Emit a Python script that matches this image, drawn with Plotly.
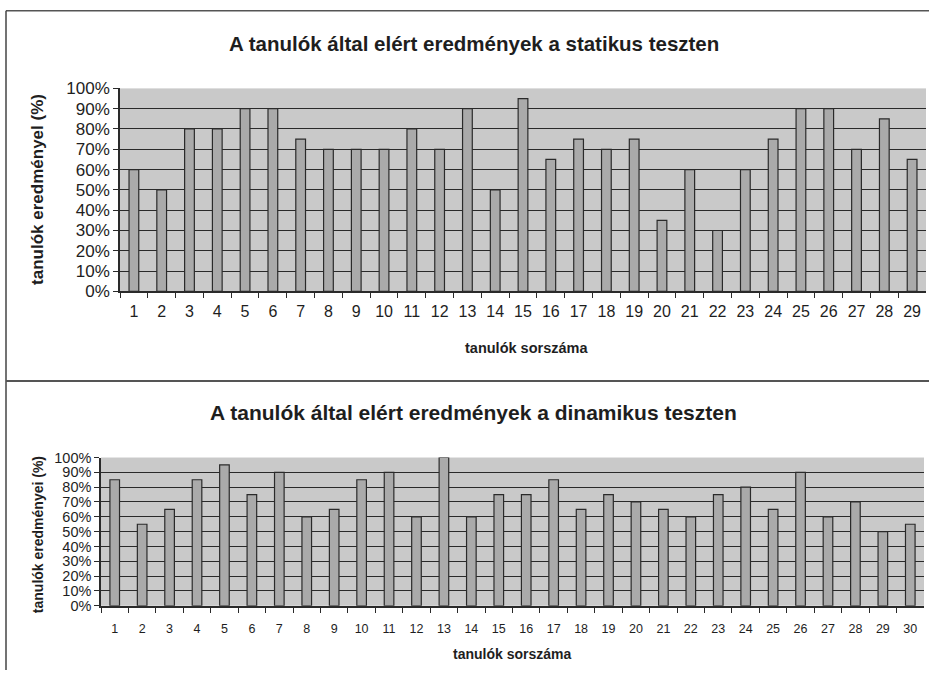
import plotly.graph_objects as go

# ---- data ----
static_students = [str(i) for i in range(1, 30)]
static_scores = [60, 50, 80, 80, 90, 90, 75, 70, 70, 70, 80, 70, 90, 50, 95,
                 65, 75, 70, 75, 35, 60, 30, 60, 75, 90, 90, 70, 85, 65]

dynamic_students = [str(i) for i in range(1, 31)]
dynamic_scores = [85, 55, 65, 85, 95, 75, 90, 60, 65, 85, 90, 60, 100, 60, 75,
                  75, 85, 65, 75, 70, 65, 60, 75, 80, 65, 90, 60, 70, 50, 55]

title_static = "A tanulók által elért eredmények a statikus teszten"
title_dynamic = "A tanulók által elért eredmények a dinamikus teszten"
ytitle_static = "tanulók eredményel (%)"
ytitle_dynamic = "tanulók eredményei (%)"
xtitle = "tanulók sorszáma"

# ---- style ----
W, H = 929, 680
FONT = "Liberation Sans"
TXT = "#1e1e1e"
BAR = "#aaaaaa"
BG = "#c9c9c9"
LINE = "#2a2a2a"


def px(x):
    return x / W


def py(y):
    # vertical layout position (pixels from top) -> paper fraction
    s = (y - 7.2) / 0.977
    return 1 - s / H


fig = go.Figure()
fig.add_trace(go.Bar(x=static_students, y=static_scores, xaxis="x", yaxis="y",
                     marker=dict(color=BAR, line=dict(color=LINE, width=1.2)),
                     showlegend=False))
fig.add_trace(go.Bar(x=dynamic_students, y=dynamic_scores, xaxis="x2", yaxis="y2",
                     marker=dict(color=BAR, line=dict(color=LINE, width=1.2)),
                     showlegend=False))

common_x = dict(type="category", showgrid=False, showline=True, linecolor=LINE,
                linewidth=1.5, ticks="outside", ticklen=5, tickcolor=LINE,
                tickson="boundaries", zeroline=False)
common_y = dict(range=[0, 100], dtick=10, ticksuffix="%", showgrid=True,
                gridcolor=LINE, gridwidth=1, showline=True, linecolor=LINE,
                linewidth=1.5, ticks="outside", ticklen=5, tickcolor=LINE,
                zeroline=False)

fig.update_layout(
    width=W, height=H,
    margin=dict(l=0, r=0, t=0, b=0),
    paper_bgcolor="white",
    plot_bgcolor=BG,
    bargap=0.65,
    font=dict(family=FONT, color=TXT),
    xaxis=dict(common_x, domain=[px(120), px(926)], anchor="y",
               tickfont=dict(size=16, family=FONT, color=TXT), ticklabelstandoff=5),
    yaxis=dict(common_y, domain=[py(291), py(87)], anchor="x",
               tickfont=dict(size=17, family=FONT, color=TXT)),
    xaxis2=dict(common_x, domain=[px(101), px(924)], anchor="y2",
                tickfont=dict(size=12.5, family=FONT, color=TXT), ticklabelstandoff=10),
    yaxis2=dict(common_y, domain=[py(607), py(458)], anchor="x2",
                tickfont=dict(size=14.5, family=FONT, color=TXT)),
)

ann = [
    dict(text="<b>" + title_static + "</b>", x=px(474), y=py(42), size=20.5),
    dict(text="<b>" + title_dynamic + "</b>", x=px(474), y=py(413), size=21),
    dict(text="<b>" + xtitle + "</b>", x=px(526), y=py(348), size=14.5),
    dict(text="<b>" + xtitle + "</b>", x=px(512), y=py(655), size=14),
]
annotations = []
for a in ann:
    annotations.append(dict(text=a["text"], x=a["x"], y=a["y"], xref="paper", yref="paper",
                            showarrow=False, xanchor="center", yanchor="middle",
                            font=dict(size=a["size"], family=FONT, color=TXT)))
annotations.append(dict(text="<b>" + ytitle_static + "</b>", x=px(38), y=py(189),
                        xref="paper", yref="paper", showarrow=False, textangle=-90,
                        xanchor="center", yanchor="middle",
                        font=dict(size=17, family=FONT, color=TXT)))
annotations.append(dict(text="<b>" + ytitle_dynamic + "</b>", x=px(38), y=py(536),
                        xref="paper", yref="paper", showarrow=False, textangle=-90,
                        xanchor="center", yanchor="middle",
                        font=dict(size=14, family=FONT, color=TXT)))
fig.update_layout(annotations=annotations)

# frame lines
shapes = [
    dict(type="line", xref="paper", yref="paper", x0=px(6), x1=1, y0=py(9), y1=py(9),
         line=dict(color="#555", width=1.5)),
    dict(type="line", xref="paper", yref="paper", x0=px(6), x1=px(6), y0=py(9), y1=0,
         line=dict(color="#444", width=1.5)),
    dict(type="line", xref="paper", yref="paper", x0=px(6), x1=1, y0=py(381), y1=py(381),
         line=dict(color="#555", width=2)),
]
fig.update_layout(shapes=shapes)

fig.write_html(
    "out.html",
    config={"displayModeBar": False, "responsive": False},
    post_script=(
        "document.body.style.margin='0';document.body.style.overflow='hidden';"
        "var d=document.getElementById('{plot_id}');"
        "d.style.position='absolute';d.style.top='0px';d.style.left='0px';"
    ),
)
